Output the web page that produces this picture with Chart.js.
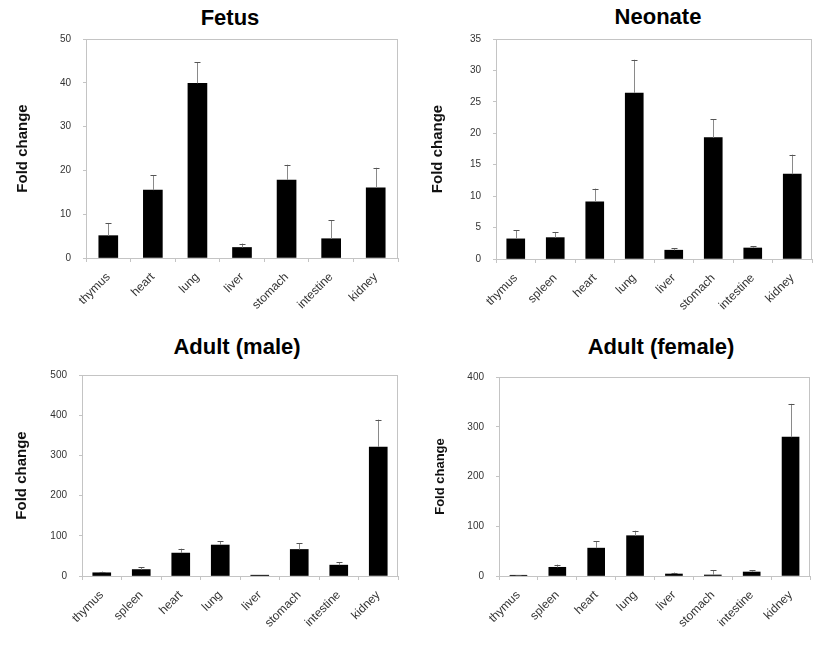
<!DOCTYPE html>
<html>
<head>
<meta charset="UTF-8">
<title>Fold change by tissue</title>
<script src="https://cdn.jsdelivr.net/npm/chart.js@4.4.0/dist/chart.umd.min.js"></script>
<style>
  body { margin: 0; background: #fff; }
  #wrap { position: relative; width: 827px; height: 646px; }
  canvas { position: absolute; }
  .ttl { position: absolute; font-family: Arial, "Liberation Sans", sans-serif; font-weight: bold;
         font-size: 22px; color: #000; transform: translateX(-50%); white-space: nowrap; }
</style>
</head>
<body>
<div id="wrap">
  <div class="ttl" style="left:230px; top:5px;">Fetus</div>
  <div class="ttl" style="left:658px; top:4px;">Neonate</div>
  <div class="ttl" style="left:237px; top:334px;">Adult (male)</div>
  <div class="ttl" style="left:661px; top:334px;">Adult (female)</div>
  <canvas id="c1" width="413" height="323" style="left:0; top:0;"></canvas>
  <canvas id="c2" width="414" height="323" style="left:413px; top:0;"></canvas>
  <canvas id="c3" width="413" height="323" style="left:0; top:323px;"></canvas>
  <canvas id="c4" width="414" height="323" style="left:413px; top:323px;"></canvas>
</div>
<script>
// tissues
const organs7 = ["thymus", "heart", "lung", "liver", "stomach", "intestine", "kidney"];
const organs8 = ["thymus", "spleen", "heart", "lung", "liver", "stomach", "intestine", "kidney"];

// means and upper error (SD)
const fetusMean = [5.1, 15.5, 39.9, 2.4, 17.8, 4.4, 16.0];
const fetusErr  = [2.9, 3.4, 4.8, 0.9, 3.5, 4.2, 4.6];
const neonateMean = [3.2, 3.4, 9.1, 26.4, 1.4, 19.3, 1.75, 13.5];
const neonateErr  = [1.4, 0.9, 2.1, 5.3, 0.3, 2.9, 0.25, 3.1];
const maleMean = [8, 16, 57, 77, 2, 66, 27, 321];
const maleErr  = [3, 6, 11, 10, 0, 16, 7, 68];
const femaleMean = [1.5, 17.5, 56, 81, 4, 2, 8, 279];
const femaleErr  = [0.5, 5.5, 14, 10, 3, 10, 4, 67];

// y axis ranges: min, max, step
const fetusTicks = [0, 50, 10];
const neonateTicks = [0, 35, 5];
const maleTicks = [0, 500, 100];
const femaleTicks = [0, 400, 100];

const FONT = 'Arial, "Liberation Sans", sans-serif';

// upper error bars + light frame round the plot
const errorBars = {
  id: 'errorBars',
  afterDatasetsDraw(chart) {
    const ctx = chart.ctx;
    const meta = chart.getDatasetMeta(0);
    const ys = chart.scales.y;
    const errs = chart.options.plugins.errorBars.errs;
    const vals = chart.data.datasets[0].data;
    ctx.save();
    ctx.lineWidth = 1;
    meta.data.forEach((bar, i) => {
      if (!errs[i]) return;
      const x = Math.round(bar.x) + 0.5;
      const top = ys.getPixelForValue(vals[i] + errs[i]);
      ctx.strokeStyle = '#8a8a8a';
      ctx.beginPath();
      ctx.moveTo(x, bar.y);
      ctx.lineTo(x, top);
      ctx.stroke();
      ctx.strokeStyle = '#555';
      ctx.beginPath();
      ctx.moveTo(x - 3, Math.round(top) + 0.5);
      ctx.lineTo(x + 3, Math.round(top) + 0.5);
      ctx.stroke();
    });
    const a = chart.chartArea;
    ctx.strokeStyle = '#c4c4c4';
    ctx.strokeRect(a.left + 0.5, a.top + 0.5, a.right - a.left - 1, a.bottom - a.top);
    ctx.restore();
  }
};

function makeChart(id, labels, mean, errs, range, g) {
  new Chart(document.getElementById(id), {
    type: 'bar',
    data: {
      labels: labels,
      datasets: [{
        data: mean,
        backgroundColor: '#000',
        borderWidth: 0,
        barThickness: g.bar
      }]
    },
    options: {
      responsive: false,
      animation: false,
      devicePixelRatio: 1,
      layout: { padding: { left: g.padL, right: g.padR, top: g.top, bottom: 0 } },
      plugins: {
        legend: { display: false },
        tooltip: { enabled: false },
        errorBars: { errs: errs }
      },
      scales: {
        x: {
          grid: { drawOnChartArea: false, tickLength: 4, color: '#c4c4c4' },
          border: { color: '#c4c4c4' },
          ticks: { maxRotation: 45, minRotation: 45, padding: 8, color: '#333', font: { family: FONT, size: 12 } },
          afterFit(s) { s.height = g.xh; }
        },
        y: {
          min: range[0], max: range[1],
          grid: { drawOnChartArea: false, tickLength: 3, color: '#c4c4c4' },
          border: { color: '#c4c4c4' },
          ticks: { stepSize: range[2], padding: 12, color: '#333', font: { family: FONT, size: 10 } },
          title: { display: true, text: 'Fold change', color: '#111',
                   padding: { top: g.ttlPad, bottom: 0 }, font: { family: FONT, size: g.ttlSize, weight: 'bold' } },
          afterFit(s) { s.width = g.yw; }
        }
      }
    },
    plugins: [errorBars]
  });
}

makeChart('c1', organs7, fetusMean, fetusErr, fetusTicks,
  { padL: 6, padR: 15, top: 39, xh: 65, yw: 80, bar: 19, ttlPad: 8, ttlSize: 15 });
makeChart('c2', organs8, neonateMean, neonateErr, neonateTicks,
  { padL: 6, padR: 15, top: 39, xh: 64, yw: 77, bar: 18, ttlPad: 10, ttlSize: 15 });
makeChart('c3', organs8, maleMean, maleErr, maleTicks,
  { padL: 6, padR: 15, top: 52, xh: 70, yw: 76, bar: 18, ttlPad: 7, ttlSize: 15 });
makeChart('c4', organs8, femaleMean, femaleErr, femaleTicks,
  { padL: 6, padR: 17, top: 54, xh: 70, yw: 80, bar: 17, ttlPad: 14, ttlSize: 13 });
</script>
</body>
</html>
